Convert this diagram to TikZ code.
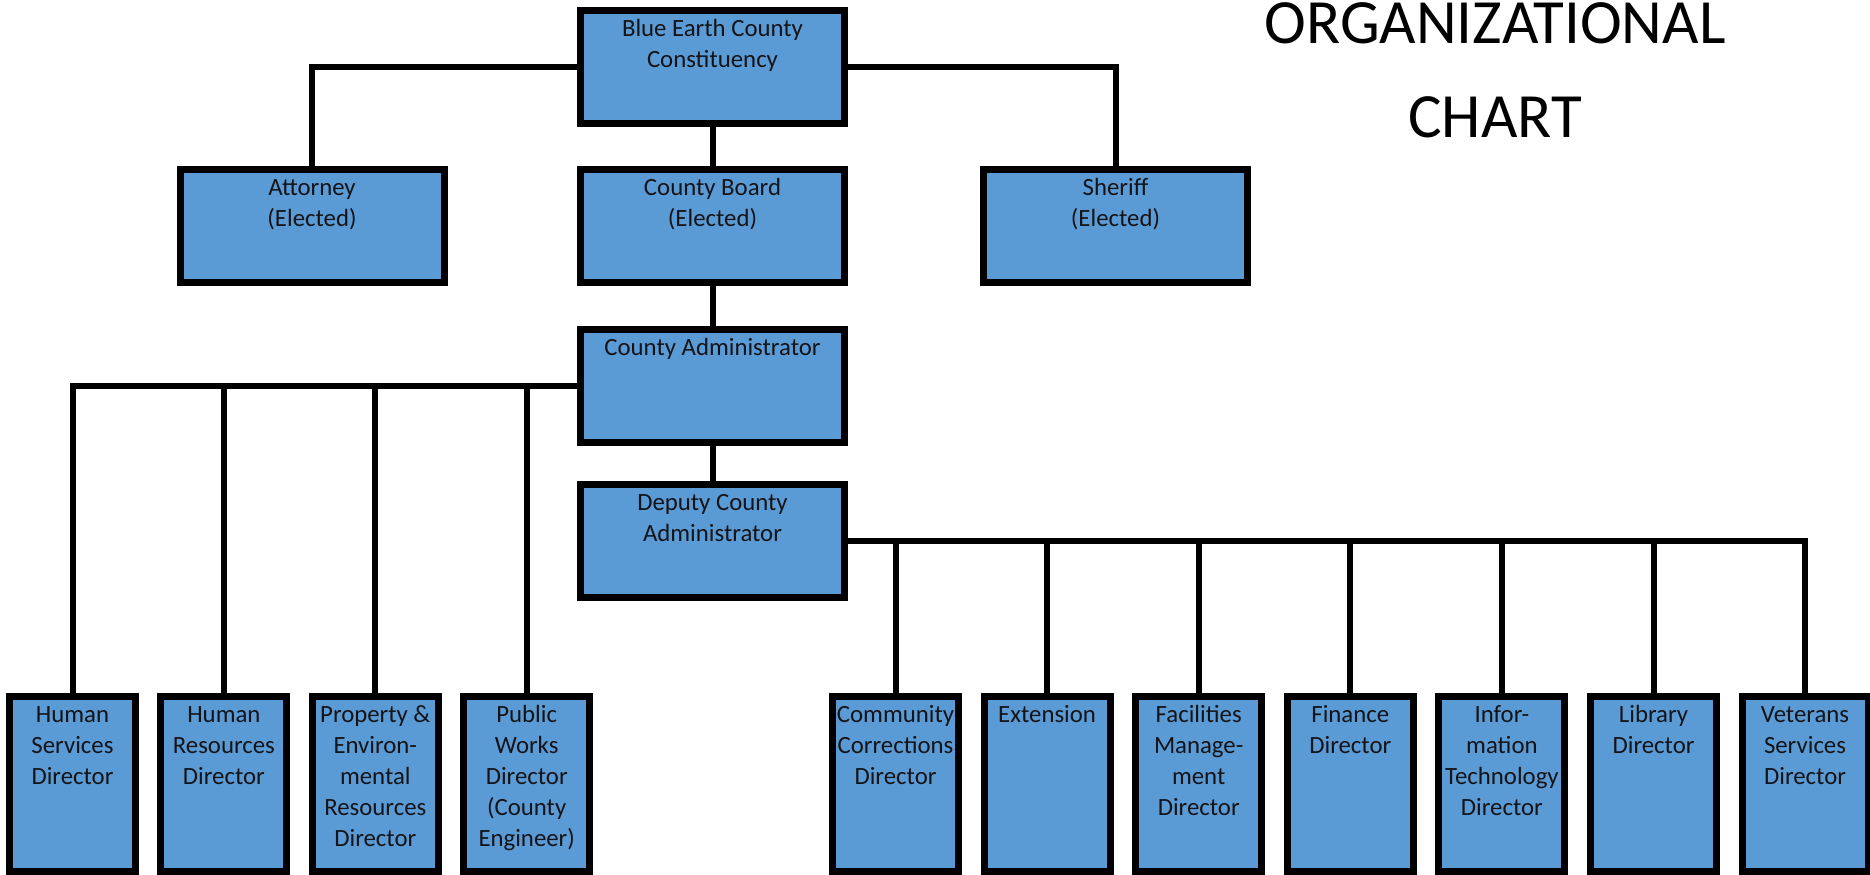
\documentclass[tikz,border=0pt]{standalone}
\usepackage{fontspec}
\setmainfont{Carlito}
\usetikzlibrary{backgrounds}
\definecolor{boxblue}{HTML}{5B9BD5}
\definecolor{txt}{HTML}{141418}
\newcommand{\bxt}[3]{\parbox[c][#1][t]{#2}{\centering\fontsize{12.4pt}{15.5pt}\selectfont\rule{0pt}{12.75pt}#3\par}}
\newcommand{\topt}[1]{\bxt{56.5pt}{132pt}{#1}}
\newcommand{\lowt}[1]{\bxt{87.5pt}{63pt}{#1}}
\tikzset{
  orgbox/.style={draw=black, line width=3.5pt, fill=boxblue, inner sep=0pt, outer sep=0pt, text=txt},
  conn/.style={draw=black, line width=3pt},
  titletext/.style={font=\fontsize{31.5pt}{38pt}\selectfont, anchor=base, inner sep=0pt, text=black},
}
\begin{document}
\begin{tikzpicture}[x=0.5pt,y=-0.5pt]
\useasboundingbox (0,0) rectangle (1870,874);
% top levels
\node[orgbox] (top)   at (712.5,67)  {\topt{Blue Earth County\\Constituency}};
\node[orgbox] (att)   at (312,226)   {\topt{Attorney\\(Elected)}};
\node[orgbox] (board) at (712.5,226) {\topt{County Board\\(Elected)}};
\node[orgbox] (sher)  at (1115.5,226){\topt{Sheriff\\(Elected)}};
\node[orgbox] (admin) at (712.5,386) {\topt{County Administrator}};
\node[orgbox] (dep)   at (712.5,541) {\topt{Deputy County\\Administrator}};
% bottom left group
\node[orgbox] (b1) at (72.5,784)  {\lowt{Human\\Services\\Director}};
\node[orgbox] (b2) at (223.9,784) {\lowt{Human\\Resources\\Director}};
\node[orgbox] (b3) at (375.3,784) {\lowt{Property \&\\Environ-\\mental\\Resources\\Director}};
\node[orgbox] (b4) at (526.7,784) {\lowt{Public\\Works\\Director\\(County\\Engineer)}};
% bottom right group
\node[orgbox] (c1) at (895.5,784)  {\lowt{Community\\Corrections\\Director}};
\node[orgbox] (c2) at (1047.1,784) {\lowt{Extension}};
\node[orgbox] (c3) at (1198.7,784) {\lowt{Facilities\\Manage-\\ment\\Director}};
\node[orgbox] (c4) at (1350.3,784) {\lowt{Finance\\Director}};
\node[orgbox] (c5) at (1501.9,784) {\lowt{Infor-\\mation\\Technology\\Director}};
\node[orgbox] (c6) at (1653.5,784) {\lowt{Library\\Director}};
\node[orgbox] (c7) at (1805,784)   {\lowt{Veterans\\Services\\Director}};
% title
\node[titletext] (t1) at (1495,43)  {ORGANIZATIONAL};
\node[titletext] (t2) at (1495,137) {CHART};
\begin{scope}[on background layer]
\fill[white] (0,0) rectangle (1870,874);
\draw[conn] (top.west) -| (att.north);
\draw[conn] (top.east) -| (sher.north);
\draw[conn] (top.south) -- (board.north);
\draw[conn] (board.south) -- (admin.north);
\draw[conn] (admin.south) -- (dep.north);
\draw[conn] (admin.west) -| (b1.north);
\foreach \n in {b2,b3,b4} {\draw[conn] (\n.north) -- (\n.north |- admin.west);}
\draw[conn] (dep.east) -| (c7.north);
\foreach \n in {c1,c2,c3,c4,c5,c6} {\draw[conn] (\n.north) -- (\n.north |- dep.east);}
\end{scope}
\end{tikzpicture}
\end{document}
